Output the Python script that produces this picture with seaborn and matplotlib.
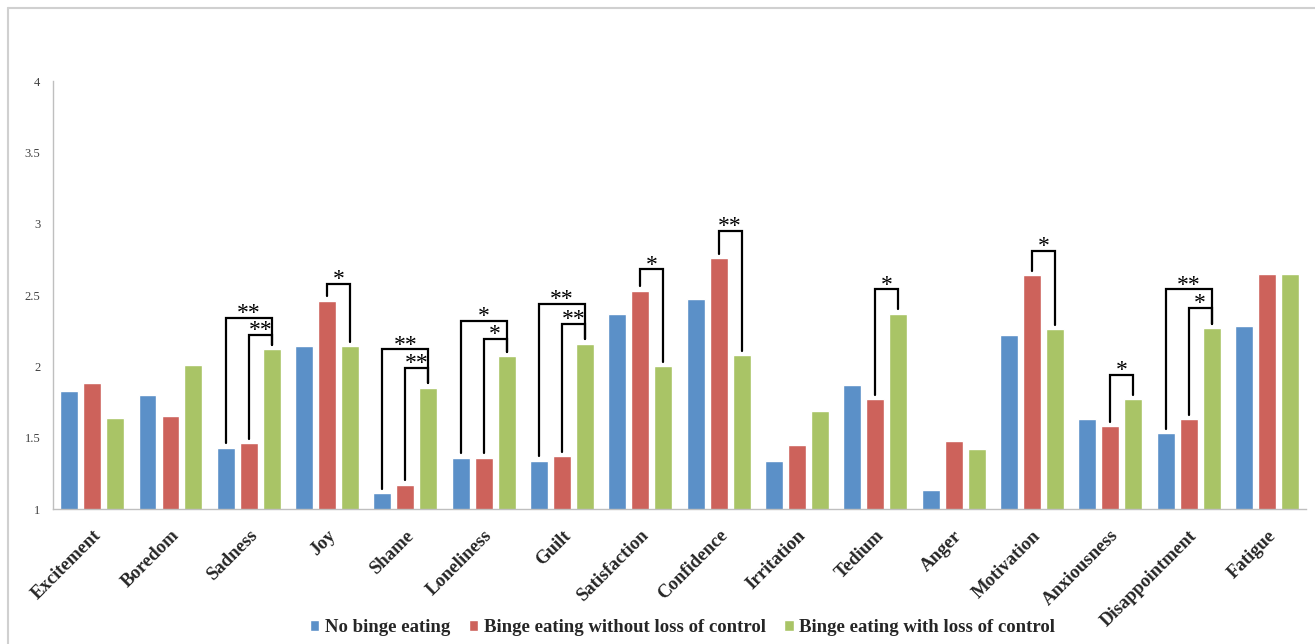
import numpy as np
import pandas as pd
import seaborn as sns
import matplotlib.pyplot as plt
from matplotlib.lines import Line2D

sns.set_style('white')
plt.rcParams['font.family'] = ['Liberation Serif', 'DejaVu Serif']

# ---------------- data ----------------
categories = ['Excitement', 'Boredom', 'Sadness', 'Joy', 'Shame', 'Loneliness', 'Guilt',
              'Satisfaction', 'Confidence', 'Irritation', 'Tedium', 'Anger', 'Motivation',
              'Anxiousness', 'Disappointment', 'Fatigue']
groups = ['No binge eating', 'Binge eating without loss of control',
          'Binge eating with loss of control']
no_binge = [1.83, 1.80, 1.43, 2.14, 1.11, 1.36, 1.34, 2.37, 2.47, 1.34, 1.87, 1.13, 2.22, 1.63, 1.53, 2.28]
binge_no_loc = [1.88, 1.65, 1.46, 2.46, 1.17, 1.36, 1.37, 2.53, 2.76, 1.45, 1.77, 1.48, 2.64, 1.58, 1.63, 2.65]
binge_loc = [1.64, 2.01, 2.12, 2.14, 1.85, 2.07, 2.16, 2.00, 2.08, 1.69, 2.37, 1.42, 2.26, 1.77, 2.27, 2.65]
colors = ['#5B90C8', '#CD625B', '#A9C466']
yticks = [1, 1.5, 2, 2.5, 3, 3.5, 4]
yticklabels = ['1', '1.5', '2', '2.5', '3', '3.5', '4']

# significance brackets: (category, from group, to group, bracket height, stars)
brackets = [
    ('Sadness', 0, 2, 2.34, '**'), ('Sadness', 1, 2, 2.22, '**'),
    ('Joy', 1, 2, 2.58, '*'),
    ('Shame', 0, 2, 2.12, '**'), ('Shame', 1, 2, 1.99, '**'),
    ('Loneliness', 0, 2, 2.32, '*'), ('Loneliness', 1, 2, 2.195, '*'),
    ('Guilt', 0, 2, 2.44, '**'), ('Guilt', 1, 2, 2.30, '**'),
    ('Satisfaction', 1, 2, 2.68, '*'),
    ('Confidence', 1, 2, 2.95, '**'),
    ('Tedium', 1, 2, 2.54, '*'),
    ('Motivation', 1, 2, 2.81, '*'),
    ('Anxiousness', 1, 2, 1.94, '*'),
    ('Disappointment', 0, 2, 2.54, '**'), ('Disappointment', 1, 2, 2.41, '*'),
]

df = pd.DataFrame({'emotion': categories, groups[0]: no_binge,
                   groups[1]: binge_no_loc, groups[2]: binge_loc})
df = df.melt(id_vars='emotion', var_name='group', value_name='score')

# ---------------- plot ----------------
fig = plt.figure(figsize=(13.15, 6.44), dpi=100)
ax = fig.add_axes([0.0403, 0.2096, 0.9529, 0.6646])

sns.barplot(data=df, x='emotion', y='score', hue='group', hue_order=groups,
            palette=colors, saturation=1, width=0.88, gap=0.22, legend=False, ax=ax)

ax.set_ylim(1, 4)
ax.set_xlim(-0.5, len(categories) - 0.5)
ax.set_yticks(yticks)
ax.set_yticklabels(yticklabels, fontsize=9, color='#404040')
ax.set_xticks(range(len(categories)))
ax.set_xticklabels(categories, rotation=45, ha='right', va='top', rotation_mode='anchor',
                   fontsize=13.5, fontweight='bold')
ax.tick_params(axis='both', length=0)
ax.tick_params(axis='y', pad=9)
ax.tick_params(axis='x', pad=13)
ax.set_xlabel('')
ax.set_ylabel('')
for side in ['top', 'right']:
    ax.spines[side].set_visible(False)
for side in ['left', 'bottom']:
    ax.spines[side].set_color('#bfbfbf')
    ax.spines[side].set_linewidth(1)

# brackets drawn from the bar positions
for cat, g0, g1, h, stars in brackets:
    i = categories.index(cat)
    b0 = ax.containers[g0][i]
    b1 = ax.containers[g1][i]
    x0 = b0.get_x() + b0.get_width() / 2
    x1 = b1.get_x() + b1.get_width() / 2
    y0 = b0.get_height() + 0.03
    y1 = b1.get_height() + 0.03
    ax.plot([x0, x0, x1, x1], [y0, h, h, y1], color='black', lw=1.6,
            solid_joinstyle='miter', clip_on=False)
    ax.annotate(stars, xy=((x0 + x1) / 2, h), xytext=(0, -1), textcoords='offset points',
                ha='center', va='baseline', fontsize=17, color='black')

# legend
handles = [c.patches[0] for c in ax.containers]
fig.legend(handles, groups, loc='center', bbox_to_anchor=(0.519, 0.025), ncol=3,
           frameon=False, handlelength=0.5, handleheight=0.5, handletextpad=0.3,
           columnspacing=1.0, prop={'family': 'Liberation Serif', 'weight': 'bold', 'size': 13.5})

# outer chart border
fig.add_artist(Line2D([8 / 1315, 1], [1 - 7.5 / 644, 1 - 7.5 / 644], color='#d0d0d0', lw=1.5,
                      transform=fig.transFigure))
fig.add_artist(Line2D([8 / 1315, 8 / 1315], [0, 1 - 7.5 / 644], color='#d0d0d0', lw=1.5,
                      transform=fig.transFigure))

fig.savefig('out.png', dpi=100)
